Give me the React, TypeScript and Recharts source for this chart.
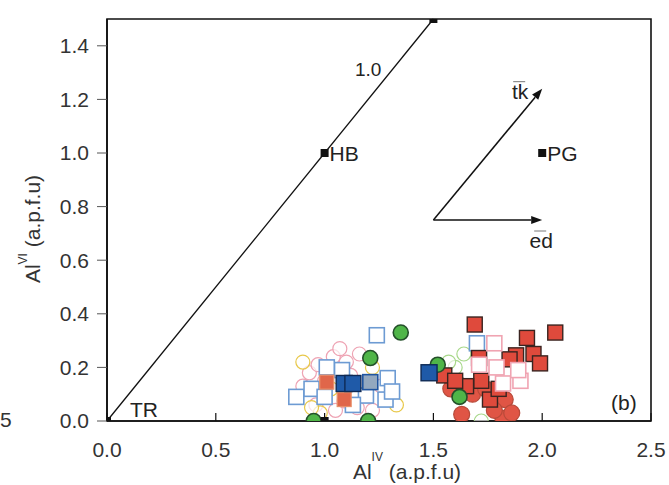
import React from 'react';
import {
  ScatterChart,
  Scatter,
  XAxis,
  YAxis,
  ReferenceLine,
  ReferenceArea,
} from 'recharts';

// tick labels
const xTicks = [0, 0.5, 1.0, 1.5, 2.0, 2.5];
const yTicks = [0, 0.2, 0.4, 0.6, 0.8, 1.0, 1.2, 1.4];

// end members of the amphibole substitution diagram
const endMembers = [
  { x: 0, y: 0, name: 'TR' },
  { x: 1, y: 1, name: 'HB' },
  { x: 1.5, y: 1.5, name: '' },
  { x: 2, y: 1, name: 'PG' },
  { x: 1, y: 0, name: '' },
];

const slopeLine = [
  { x: 0, y: 0 },
  { x: 1.5, y: 1.5 },
];
const slopeLabel = [{ x: 1.2, y: 1.31, name: '1.0' }];

// substitution vectors
const tkVector = [
  { x: 1.5, y: 0.75 },
  { x: 2.0, y: 1.24 },
];
const edVector = [
  { x: 1.5, y: 0.75 },
  { x: 2.0, y: 0.75 },
];

// sample groups
const pinkOpenCircles = [
  { x: 1.16, y: 0.25 }, { x: 0.93, y: 0.18 }, { x: 0.97, y: 0.21 },
  { x: 1.04, y: 0.24 }, { x: 1.10, y: 0.22 }, { x: 0.90, y: 0.13 },
  { x: 0.96, y: 0.06 }, { x: 1.05, y: 0.04 }, { x: 1.09, y: 0.075 },
  { x: 1.15, y: 0.05 }, { x: 1.22, y: 0.04 }, { x: 1.26, y: 0.13 },
  { x: 1.00, y: 0.15 }, { x: 1.12, y: 0.17 }, { x: 1.07, y: 0.27 },
];
const yellowOpenCircles = [
  { x: 0.90, y: 0.22 }, { x: 0.98, y: 0.03 }, { x: 1.22, y: 0.20 },
  { x: 1.33, y: 0.06 }, { x: 1.03, y: 0.12 }, { x: 0.94, y: 0.05 },
];
const greenOpenCircles = [
  { x: 1.64, y: 0.25 }, { x: 1.72, y: 0.0 }, { x: 1.60, y: 0.20 },
  { x: 1.57, y: 0.22 },
];
const blueOpenSquares = [
  { x: 1.24, y: 0.32 }, { x: 1.29, y: 0.16 }, { x: 0.87, y: 0.09 },
  { x: 1.19, y: 0.095 }, { x: 1.28, y: 0.08 }, { x: 1.08, y: 0.19 },
  { x: 1.31, y: 0.11 }, { x: 1.13, y: 0.06 }, { x: 0.94, y: 0.12 },
  { x: 1.00, y: 0.09 }, { x: 1.01, y: 0.20 }, { x: 1.70, y: 0.29 },
];
const pinkOpenSquares = [
  { x: 1.78, y: 0.29 }, { x: 1.71, y: 0.21 }, { x: 1.79, y: 0.20 },
  { x: 1.90, y: 0.15 }, { x: 1.82, y: 0.14 }, { x: 1.89, y: 0.19 },
];
const orangeSquares = [
  { x: 1.01, y: 0.145 }, { x: 1.09, y: 0.08 },
];
const redCircles = [
  { x: 1.61, y: 0.14 }, { x: 1.83, y: 0.08 }, { x: 1.63, y: 0.025 },
  { x: 1.82, y: 0.01 }, { x: 1.68, y: 0.10 }, { x: 1.78, y: 0.04 },
  { x: 1.58, y: 0.12 }, { x: 1.74, y: 0.12 }, { x: 1.86, y: 0.03 },
];
const redSquares = [
  { x: 1.69, y: 0.36 }, { x: 2.06, y: 0.33 }, { x: 1.93, y: 0.31 },
  { x: 1.88, y: 0.245 }, { x: 1.96, y: 0.25 }, { x: 1.99, y: 0.215 },
  { x: 1.71, y: 0.235 }, { x: 1.85, y: 0.23 }, { x: 1.55, y: 0.17 },
  { x: 1.72, y: 0.15 }, { x: 1.65, y: 0.13 }, { x: 1.76, y: 0.08 },
  { x: 1.60, y: 0.15 }, { x: 1.80, y: 0.12 },
];
const greenCircles = [
  { x: 1.35, y: 0.33 }, { x: 1.21, y: 0.235 }, { x: 0.95, y: 0 },
  { x: 1.20, y: 0 }, { x: 1.52, y: 0.21 }, { x: 1.62, y: 0.09 },
];
const darkBlueSquares = [
  { x: 1.09, y: 0.14 }, { x: 1.13, y: 0.14 }, { x: 1.48, y: 0.18 },
];
const greyBlueSquares = [{ x: 1.21, y: 0.145 }];

const FONT = '"Liberation Sans", Arial, sans-serif';
const FS = 21;

const square = (side: number, fill: string, stroke: string, sw = 1.2) => (p: any) => (
  <rect
    x={p.cx - side / 2}
    y={p.cy - side / 2}
    width={side}
    height={side}
    fill={fill}
    stroke={stroke}
    strokeWidth={sw}
  />
);

const circle = (r: number, fill: string, stroke: string, sw = 1.2) => (p: any) => (
  <circle cx={p.cx} cy={p.cy} r={r} fill={fill} stroke={stroke} strokeWidth={sw} />
);

const endMemberShape = (p: any) => (
  <g>
    <rect x={p.cx - 4} y={p.cy - 4} width={8} height={8} fill="#111" />
    {p.payload.name === 'TR' && (
      <text x={p.cx + 23} y={p.cy - 4} fontSize={FS} fontFamily={FONT} fill="#222">
        TR
      </text>
    )}
    {p.payload.name && p.payload.name !== 'TR' && (
      <text x={p.cx + 5} y={p.cy + 8} fontSize={FS} fontFamily={FONT} fill="#222">
        {p.payload.name}
      </text>
    )}
  </g>
);

const textShape = (p: any) => (
  <text x={p.cx} y={p.cy} textAnchor="middle" dominantBaseline="central" fontSize={19} fontFamily={FONT} fill="#222">
    {p.payload.name}
  </text>
);

const arrow = (label: string, dx: number, dy: number) => (p: any) => {
  const { x1, y1, x2, y2 } = p;
  const a = Math.atan2(y2 - y1, x2 - x1);
  const L = 11;
  const W = 4;
  const bx = x2 - L * Math.cos(a);
  const by = y2 - L * Math.sin(a);
  const pts = [
    [x2, y2],
    [bx + W * Math.sin(a), by - W * Math.cos(a)],
    [bx - W * Math.sin(a), by + W * Math.cos(a)],
  ]
    .map((q) => q.join(','))
    .join(' ');
  return (
    <g>
      <line x1={x1} y1={y1} x2={bx} y2={by} stroke="#111" strokeWidth={1.5} />
      <polygon points={pts} fill="#111" />
      <text x={x2 + dx} y={y2 + dy} textAnchor="middle" fontSize={FS} fontFamily={FONT} fill="#222">
        {label}
      </text>
      <line x1={x2 + dx - 7} x2={x2 + dx + 5} y1={y2 + dy - 17} y2={y2 + dy - 17} stroke="#555" strokeWidth={0.8} />
    </g>
  );
};

const XTick = (p: any) => (
  <g>
    <line x1={p.x} x2={p.x} y1={p.y} y2={p.y - 8} stroke="#111" strokeWidth={1.2} />
    <text x={p.x} y={p.y + 36} textAnchor="middle" fontSize={FS} fontFamily={FONT} fill="#333">
      {Number(p.payload.value).toFixed(1)}
    </text>
  </g>
);

const XLabel = (p: any) => {
  const vb = p.viewBox;
  const cx = vb.x + vb.width / 2 + 28;
  const y = vb.y + 58;
  return (
    <text x={cx} y={y} textAnchor="middle" fontSize={FS} fontFamily={FONT} fill="#333">
      Al
      <tspan dy={-18} fontSize={12}>IV</tspan>
      <tspan dy={18}> (a.p.f.u)</tspan>
    </text>
  );
};

const YLabel = (p: any) => {
  const x = 40;
  const cy = 229;
  return (
    <text
      x={x}
      y={cy}
      transform={`rotate(-90, ${x}, ${cy})`}
      textAnchor="middle"
      fontSize={FS}
      fontFamily={FONT}
      fill="#333"
    >
      Al
      <tspan dy={-13} fontSize={12}>VI</tspan>
      <tspan dy={13}> (a.p.f.u)</tspan>
    </text>
  );
};

export default function App() {
  return (
    <div style={{ position: 'absolute', left: 0, top: 0, width: 669, height: 485, background: '#fff' }}>
      <span
        style={{ position: 'absolute', left: 0, top: 408, fontSize: FS, fontFamily: FONT, color: '#333' }}
      >
        5
      </span>
      <ScatterChart width={669} height={485} margin={{ top: 19, right: 18, left: 0, bottom: 0 }}>
        <XAxis
          type="number"
          dataKey="x"
          domain={[0, 2.5]}
          ticks={xTicks}
          height={64}
          tick={<XTick />}
          tickLine={false}
          tickSize={0}
          tickMargin={0}
          axisLine={{ stroke: '#111', strokeWidth: 1.6 }}
          allowDataOverflow
          label={{ content: <XLabel /> }}
        />
        <YAxis
          type="number"
          dataKey="y"
          domain={[0, 1.5]}
          ticks={yTicks}
          width={107}
          tickFormatter={(v: number) => v.toFixed(1)}
          tick={{ fontSize: FS, fontFamily: FONT, fill: '#333' }}
          tickSize={10}
          tickMargin={8}
          tickLine={{ stroke: '#555' }}
          axisLine={{ stroke: '#111', strokeWidth: 1.6 }}
          allowDataOverflow
          label={{ content: <YLabel /> }}
        />
        <ReferenceArea x1={0} x2={2.5} y1={0} y2={1.5} fill="none" fillOpacity={0} stroke="#111" strokeWidth={1.6} />
        <ReferenceLine segment={slopeLine} stroke="#111" strokeWidth={1.3} />
        <ReferenceLine segment={tkVector} shape={arrow('tk', -22, 10)} />
        <ReferenceLine segment={edVector} shape={arrow('ed', -1, 28)} />

        <Scatter data={pinkOpenCircles} isAnimationActive={false} shape={circle(7, 'rgba(255,255,255,0.7)', '#eea3b3')} />
        <Scatter data={yellowOpenCircles} isAnimationActive={false} shape={circle(7, 'rgba(255,255,255,0.7)', '#e8c84a')} />
        <Scatter data={greenOpenCircles} isAnimationActive={false} shape={circle(7, 'rgba(255,255,255,0.6)', '#a8d88a')} />
        <Scatter data={blueOpenSquares} isAnimationActive={false} shape={square(15, '#fff', '#6d9bd3', 1.6)} />
        <Scatter data={orangeSquares} isAnimationActive={false} shape={square(14, '#e0664a', '#e8906a')} />
        <Scatter data={redCircles} isAnimationActive={false} shape={circle(8, '#e05545', '#b84a3a')} />
        <Scatter data={redSquares} isAnimationActive={false} shape={square(15, '#df4a3c', '#3a2420', 1.4)} />
        <Scatter data={pinkOpenSquares} isAnimationActive={false} shape={square(15, '#fff', '#f0a4b2', 1.6)} />
        <Scatter data={greenCircles} isAnimationActive={false} shape={circle(7.5, '#4fb548', '#24502a', 1.6)} />
        <Scatter data={darkBlueSquares} isAnimationActive={false} shape={square(16, '#1f5aa8', '#0e2a55', 1.4)} />
        <Scatter data={greyBlueSquares} isAnimationActive={false} shape={square(15, '#93a8bf', '#2055a0', 1.6)} />
        <Scatter data={endMembers} isAnimationActive={false} shape={endMemberShape} />
        <Scatter data={slopeLabel} isAnimationActive={false} shape={textShape} />
      </ScatterChart>
      <span
        style={{ position: 'absolute', left: 611, top: 391, fontSize: FS, fontFamily: FONT, color: '#222' }}
      >
        (b)
      </span>
    </div>
  );
}
